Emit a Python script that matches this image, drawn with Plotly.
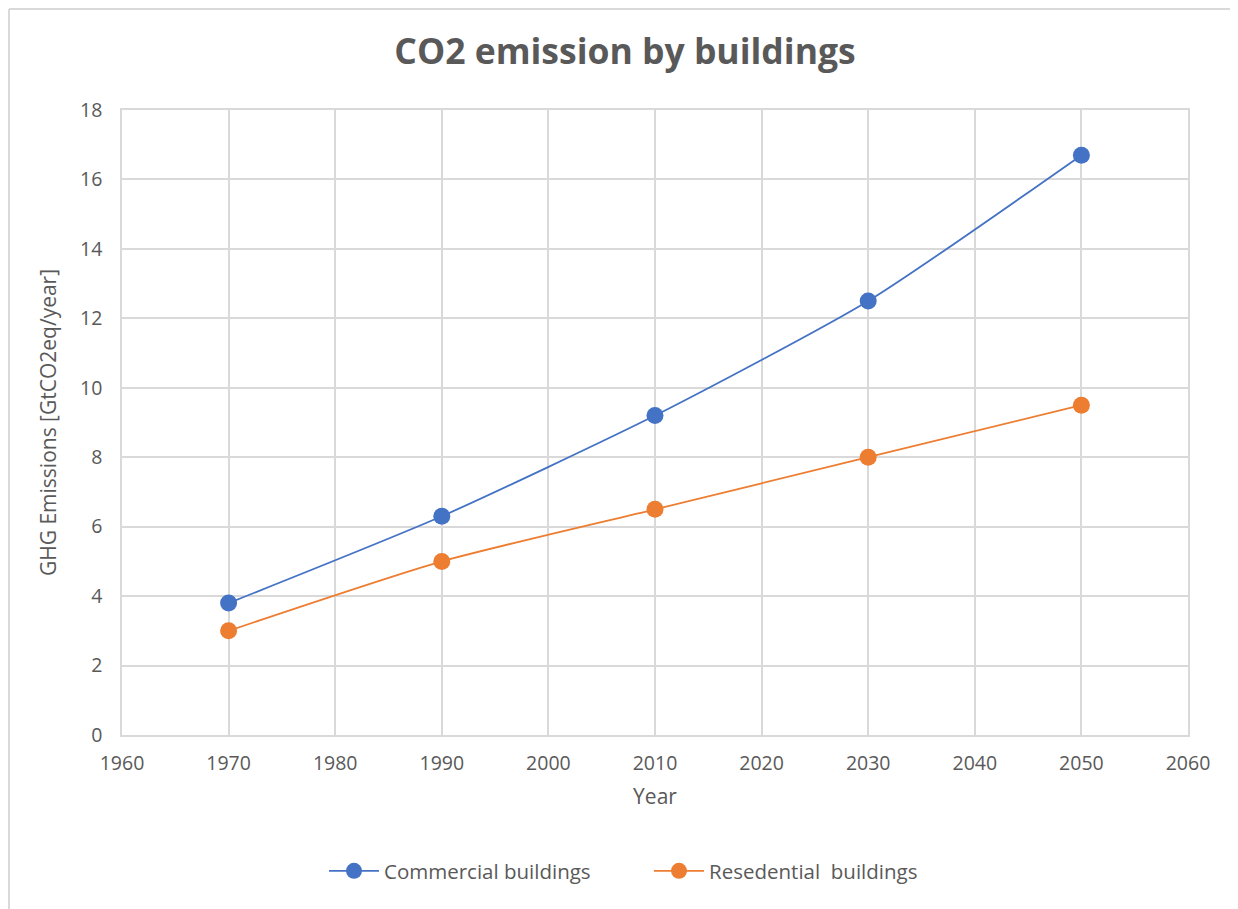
import plotly.graph_objects as go

years = [1970, 1990, 2010, 2030, 2050]
commercial = [3.8, 6.3, 9.2, 12.5, 16.7]
residential = [3.0, 5.0, 6.5, 8.0, 9.5]
series_names = ["Commercial buildings", "Resedential  buildings"]
series_colors = ["#4472C4", "#ED7D31"]

x_ticks = [1960, 1970, 1980, 1990, 2000, 2010, 2020, 2030, 2040, 2050, 2060]
y_ticks = [0, 2, 4, 6, 8, 10, 12, 14, 16, 18]

font_family = "Open Sans, Noto Sans, sans-serif"
text_color = "#595959"
grid_color = "#D9D9D9"

# page body adds an 8px offset, so the figure is shrunk by that amount to fit the window
left, top, plot_w, plot_h = 114, 102, 1066, 625
W, H = 1230, 901

fig = go.Figure()
for name, vals, col in zip(series_names, [commercial, residential], series_colors):
    fig.add_trace(go.Scatter(
        x=years, y=vals, name=name, mode="lines+markers",
        line=dict(color=col, width=1.8, shape="spline", smoothing=0.6),
        marker=dict(color=col, size=17),
    ))

# outer chart border (only left and top edges visible), kept inside the figure
bx0 = (1 - left) / plot_w
bx1 = (W - left) / plot_w
by1 = 1 + (top - 1) / plot_h
by0 = -(H - top - plot_h) / plot_h
fig.add_shape(type="line", xref="paper", yref="paper", x0=bx0, x1=bx0, y0=by0, y1=by1,
              line=dict(color=grid_color, width=2))
fig.add_shape(type="line", xref="paper", yref="paper", x0=bx0, x1=bx1, y0=by1, y1=by1,
              line=dict(color=grid_color, width=2))

fig.update_layout(
    width=W, height=H,
    margin=dict(l=left, r=W - left - plot_w, t=top, b=H - top - plot_h),
    paper_bgcolor="white", plot_bgcolor="white",
    font=dict(family=font_family, color=text_color, size=19),
    title=dict(text="<b>CO2 emission by buildings</b>", x=(625 - 8) / W, xanchor="center",
               y=1 - 44 / H, yanchor="middle",
               font=dict(size=35.5, color=text_color, family=font_family)),
    legend=dict(orientation="h", x=(649 - 122) / plot_w, xanchor="center",
                y=-(871 - 735) / plot_h, yanchor="middle",
                font=dict(size=20.5, color=text_color),
                itemwidth=50, entrywidth=260, entrywidthmode="pixels",
                traceorder="normal"),
    showlegend=True,
)
fig.update_xaxes(
    range=[1960, 2060], tickvals=x_ticks, ticks="",
    showgrid=True, gridcolor=grid_color, gridwidth=1.5,
    showline=True, linecolor=grid_color, linewidth=1.5, mirror=True,
    zeroline=False, ticklabelstandoff=10,
    title=dict(text="Year", font=dict(size=21, color=text_color), standoff=14),
    tickfont=dict(size=19.5, color=text_color),
)
fig.update_yaxes(
    range=[0, 18], tickvals=y_ticks, ticks="",
    showgrid=True, gridcolor=grid_color, gridwidth=1.5,
    showline=True, linecolor=grid_color, linewidth=1.5, mirror=True,
    zeroline=False, ticklabelstandoff=14,
    title=dict(text="GHG Emissions [GtCO2eq/year]", font=dict(size=21, color=text_color), standoff=18),
    tickfont=dict(size=19.5, color=text_color),
)

fig.write_html("out.html")
